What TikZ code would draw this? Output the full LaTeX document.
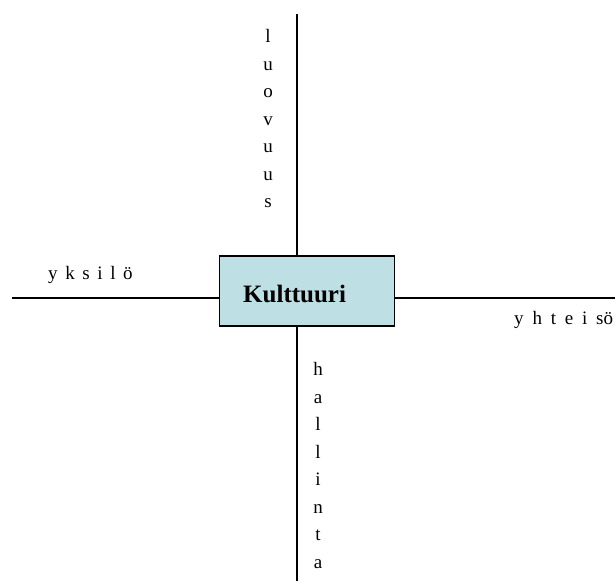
\documentclass[tikz,border=0pt]{standalone}
\usepackage{fontspec}
\setmainfont{Liberation Serif}
\definecolor{boxfill}{RGB}{190,224,228}
\newcommand\mywidespace{\spaceskip=7.6pt\relax}
\newcommand\mywiderspace{\spaceskip=8.8pt\relax}
\begin{document}
\begin{tikzpicture}[x=1pt,y=-1pt,
  axis/.style={line width=1.8pt,black},
  corebox/.style={draw=black,line width=1.8pt,fill=boxfill,minimum width=175pt,minimum height=70pt,inner sep=0pt,anchor=north west},
  coretext/.style={inner sep=0pt,anchor=base west,font=\fontsize{25}{30}\selectfont\bfseries},
  spaced/.style={inner sep=0pt,anchor=base west,font=\fontsize{19}{23}\selectfont\mywidespace},
  spacedwide/.style={inner sep=0pt,anchor=base west,font=\fontsize{19}{23}\selectfont\mywiderspace},
  stacked/.style={inner sep=0pt,anchor=base,align=center,font=\fontsize{19}{27.5}\selectfont}]
\useasboundingbox (0,0) rectangle (616,585);
\coordinate (top) at (297,14);
\coordinate (bottom) at (297,581);
\coordinate (left) at (12,298);
\coordinate (right) at (615,298);
\node[corebox] (box) at (218.5,255) {};
\node[coretext] (kult) at (243,303) {Kulttuuri};
\draw[axis] (top) -- (top |- box.north);
\draw[axis] (top |- box.south) -- (bottom);
\draw[axis] (left) -- (box.west |- left);
\draw[axis] (box.east |- right) -- (right);
\node[spaced] (yksilo) at (48,280) {y k s i l ö};
\node[spacedwide] (yhteiso) at (514,325) {y h t e i sö};
\node[stacked] (luovuus) at (268,208) {l\\u\\o\\v\\u\\u\\s};
\node[stacked] (hallinta) at (318,568) {h\\a\\l\\l\\i\\n\\t\\a};
\end{tikzpicture}
\end{document}
